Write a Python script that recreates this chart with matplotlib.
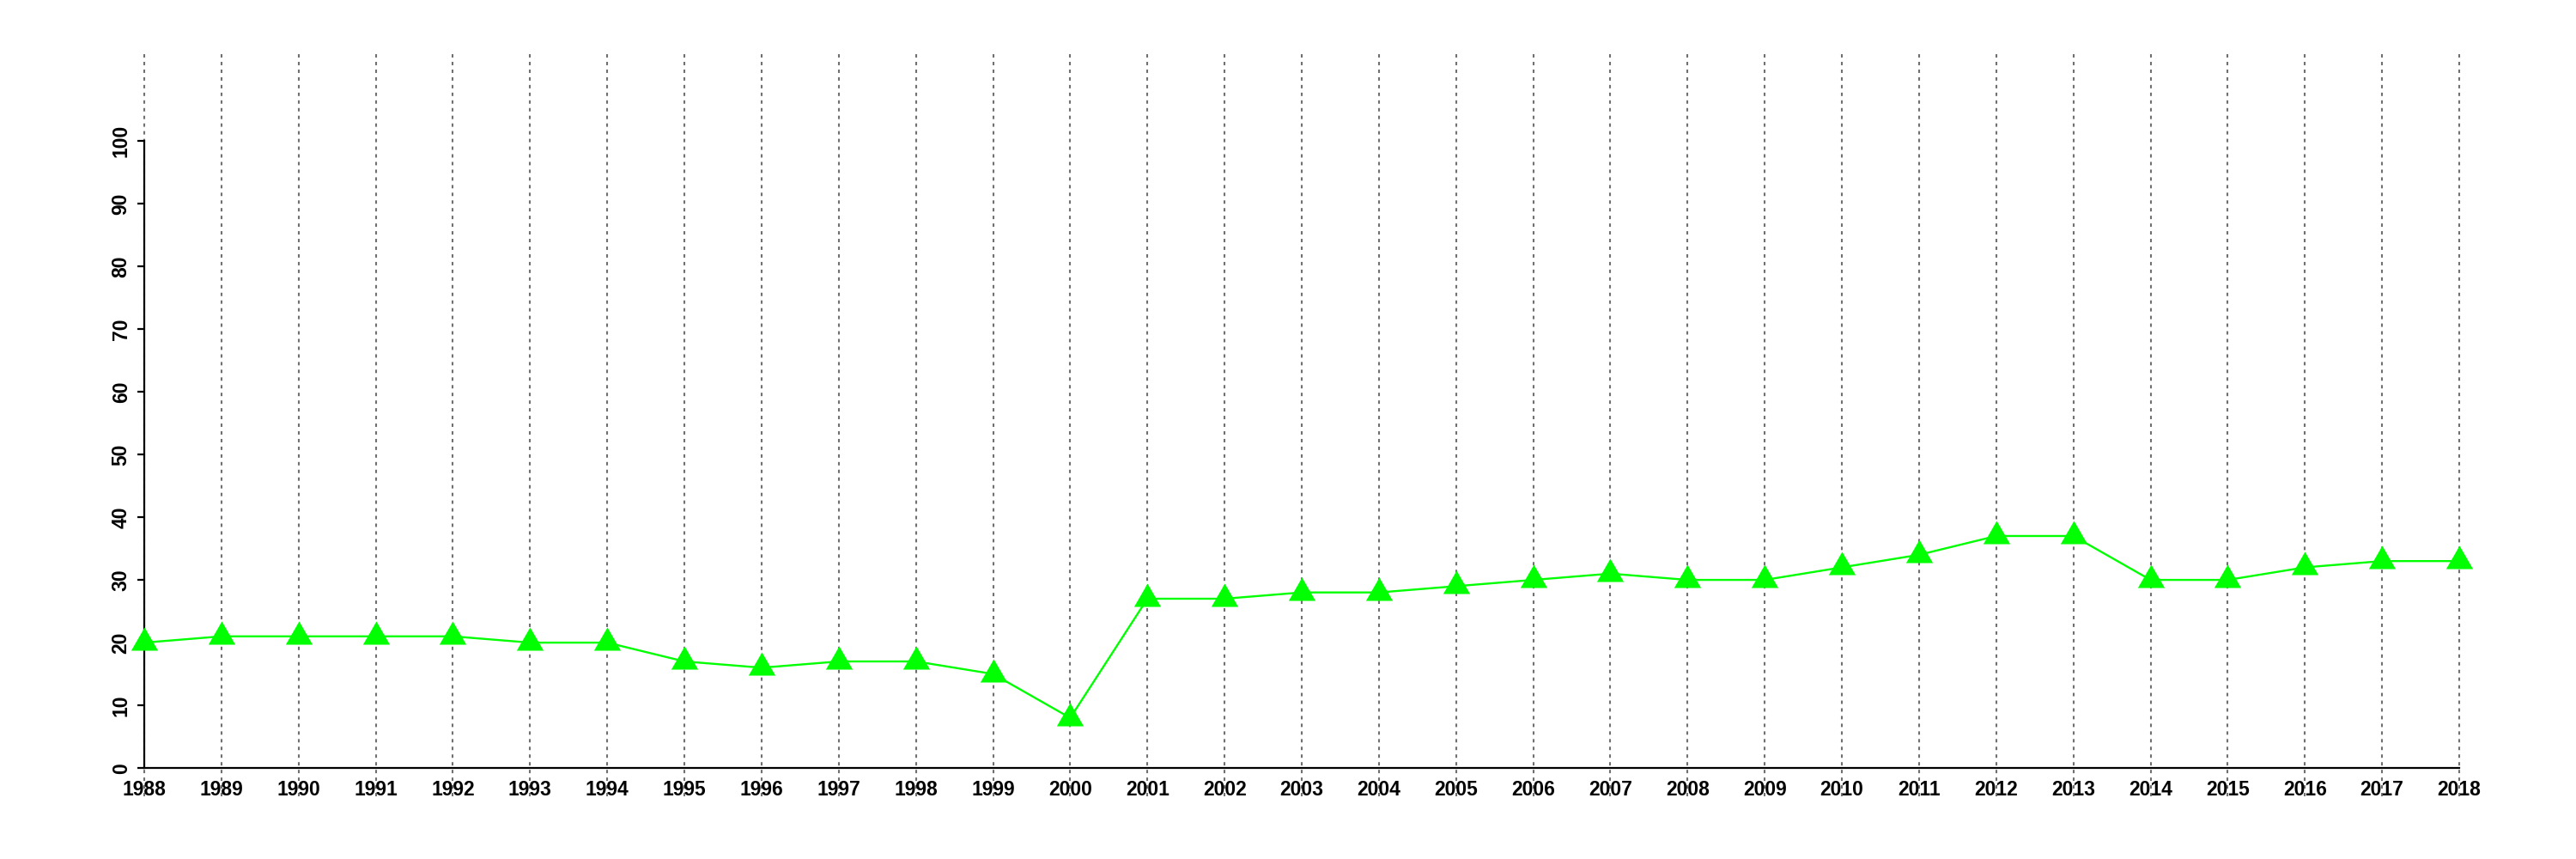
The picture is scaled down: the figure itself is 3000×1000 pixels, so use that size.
import matplotlib
matplotlib.use("Agg")
import matplotlib.pyplot as plt
import numpy as np

years = list(range(1988, 2019))
values = [20, 21, 21, 21, 21, 20, 20, 17, 16, 17, 17, 15, 8, 27, 27, 28, 28, 29, 30, 31,
          30, 30, 32, 34, 37, 37, 30, 30, 32, 33, 33]
yticks = [0, 10, 20, 30, 40, 50, 60, 70, 80, 90, 100]

plt.rcParams['font.family'] = ['Liberation Sans', 'DejaVu Sans']

fig = plt.figure(figsize=(30, 10), dpi=100)
ax = fig.add_axes([168/3000, 73/1000, (2864-168)/3000, (927-61)/1000])

ylo, yhi = -4.5, 114.1
ax.set_xlim(1988, 2018)
ax.set_ylim(ylo, yhi)

ax.vlines(years, ylo, yhi, colors='#707070', linewidth=1.5,
          linestyles=(0, (1.9, 2.4)), zorder=1, clip_on=False)

tri = [(-1, -0.57735), (1, -0.57735), (0, 1.1547)]
ax.plot(years, values, color='#00ff00', linewidth=1.7, marker=tri,
        markersize=26, markeredgewidth=0, markerfacecolor='#00ff00',
        clip_on=False, zorder=3)

for s in ['top', 'right']:
    ax.spines[s].set_visible(False)
ax.spines['left'].set_bounds(0, 100)
ax.spines['left'].set_linewidth(1.6)
ax.spines['bottom'].set_position(('data', 0))
ax.spines['bottom'].set_bounds(1988, 2018)
ax.spines['bottom'].set_linewidth(1.6)

ax.set_xticks(years)
ax.set_xticklabels([str(y) for y in years], fontsize=16.5, fontweight='bold')
ax.tick_params(axis='x', length=0, pad=10)
ax.set_yticks(yticks)
ax.set_yticklabels([str(v) for v in yticks], fontsize=16.5, fontweight='bold',
                   rotation=90, va='center')
ax.tick_params(axis='y', length=6, width=1.6, pad=5)

fig.savefig('out.png', dpi=100)
